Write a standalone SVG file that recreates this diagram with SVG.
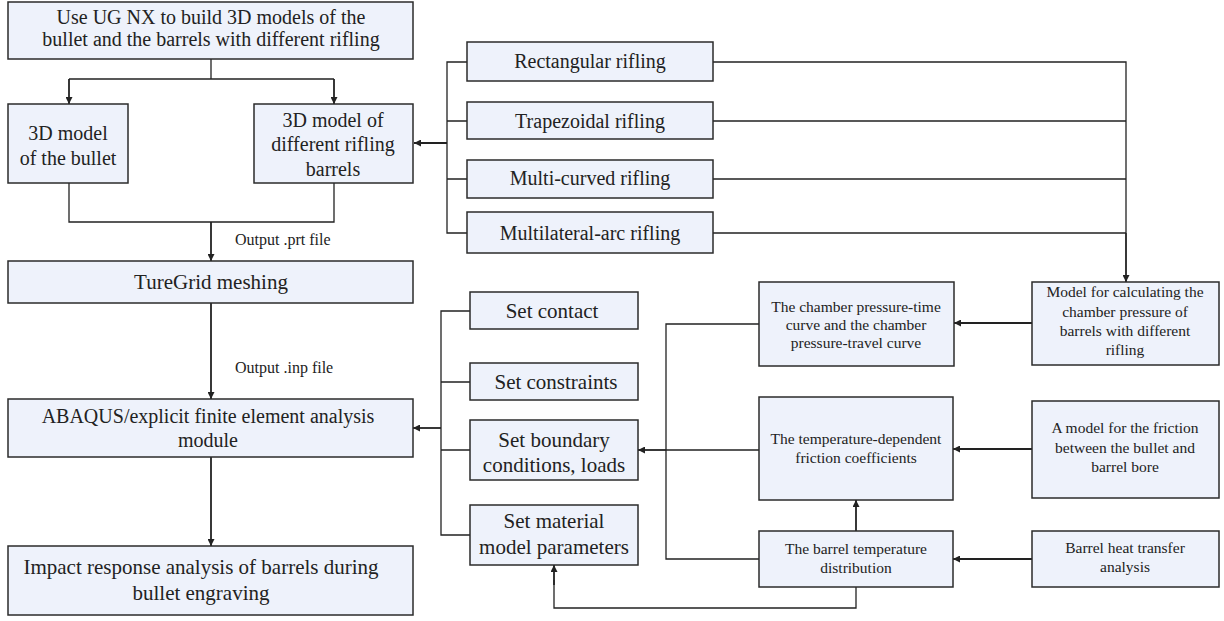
<svg xmlns="http://www.w3.org/2000/svg" width="1224" height="621" viewBox="0 0 1224 621">
<style>
.box{fill:#eef2fb;stroke:#2b2b2b;stroke-width:1.5}
.t{font-family:"Liberation Serif",serif;fill:#222;text-anchor:middle}
.big{font-size:20px}
.set{font-size:21px}
.sm{font-size:15.5px}
.lbl{font-family:"Liberation Serif",serif;fill:#222;font-size:16px}
.ln{fill:none;stroke:#222;stroke-width:1.3}
.ar{fill:none;stroke:#222;stroke-width:1.8;marker-end:url(#ah)}
</style>
<defs>
<marker id="ah" markerUnits="userSpaceOnUse" markerWidth="7" markerHeight="7" refX="7" refY="3.5" orient="auto">
<path d="M0,0 L7,3.5 L0,7 z" fill="#222"/>
</marker>
</defs>
<rect width="1224" height="621" fill="#fff"/>

<g id="connectors">
<path class="ln" d="M211,59 V79 M69,79 H334"/>
<path class="ar" d="M69,79 V104"/>
<path class="ar" d="M334,79 V104"/>
<path class="ln" d="M69,183 V222 H334 V183"/>
<path class="ar" d="M211,222 V261"/>
<path class="ar" d="M211,303 V399"/>
<path class="ar" d="M211,457 V546"/>
<path class="ln" d="M467,62 H447 V233 H467 M447,121 H467 M447,179 H467"/>
<path class="ar" d="M447,143 H414"/>
<path class="ln" d="M713,62 H1126 V233 M713,121 H1126 M713,179 H1126 M713,233 H1126"/>
<path class="ar" d="M1126,233 V282"/>
<path class="ar" d="M1032,323 H954"/>
<path class="ar" d="M1032,449 H953"/>
<path class="ar" d="M1032,559 H953"/>
<path class="ar" d="M856,531 V500"/>
<path class="ln" d="M759,324 H666 V559 H759 M759,450 H666"/>
<path class="ar" d="M666,450 H638"/>
<path class="ln" d="M470,311 H441 V535 H470 M441,382 H470 M441,450 H470"/>
<path class="ar" d="M441,428 H413"/>
<path class="ln" d="M856,587 V608 H554 V580"/>
<path class="ar" d="M554,585 V565"/>
</g>

<g id="n-top"><rect class="box" x="8" y="2" width="405" height="57"/>
<text class="t big" x="211" y="24">Use UG NX to build 3D models of the</text>
<text class="t big" x="211" y="46">bullet and the barrels with different rifling</text></g>

<g id="n-bullet"><rect class="box" x="8" y="104" width="120" height="79"/>
<text class="t big" x="68" y="140">3D model</text>
<text class="t big" x="68" y="165">of the bullet</text></g>

<g id="n-barrels"><rect class="box" x="254" y="104" width="159" height="79"/>
<text class="t big" x="333" y="127">3D model of</text>
<text class="t big" x="333" y="151">different rifling</text>
<text class="t big" x="333" y="176">barrels</text></g>

<g id="n-rect"><rect class="box" x="467" y="42" width="246" height="39"/>
<text class="t big" x="590" y="68">Rectangular rifling</text></g>
<g id="n-trap"><rect class="box" x="467" y="102" width="246" height="37"/>
<text class="t big" x="590" y="128">Trapezoidal rifling</text></g>
<g id="n-multi"><rect class="box" x="467" y="160" width="246" height="38"/>
<text class="t big" x="590" y="185">Multi-curved rifling</text></g>
<g id="n-multilat"><rect class="box" x="467" y="212" width="246" height="41"/>
<text class="t big" x="590" y="240">Multilateral-arc rifling</text></g>

<text class="lbl" x="235" y="245">Output .prt file</text>
<text class="lbl" x="235" y="373">Output .inp file</text>

<g id="n-turegrid"><rect class="box" x="8" y="261" width="405" height="42"/>
<text class="t set" x="211" y="289">TureGrid meshing</text></g>

<g id="n-abaqus"><rect class="box" x="8" y="399" width="405" height="58"/>
<text class="t big" x="208" y="423">ABAQUS/explicit finite element analysis</text>
<text class="t big" x="208" y="447">module</text></g>

<g id="n-impact"><rect class="box" x="8" y="546" width="405" height="69"/>
<text class="t set" x="201" y="574">Impact response analysis of barrels during</text>
<text class="t set" x="201" y="600">bullet engraving</text></g>

<g id="n-contact"><rect class="box" x="470" y="292" width="168" height="37"/>
<text class="t set" x="552" y="318">Set contact</text></g>
<g id="n-constraints"><rect class="box" x="470" y="363" width="168" height="37"/>
<text class="t set" x="556" y="389">Set constraints</text></g>
<g id="n-boundary"><rect class="box" x="470" y="420" width="168" height="60"/>
<text class="t set" x="554" y="447">Set boundary</text>
<text class="t set" x="554" y="472">conditions, loads</text></g>
<g id="n-material"><rect class="box" x="470" y="505" width="168" height="60"/>
<text class="t set" x="554" y="528">Set material</text>
<text class="t set" x="554" y="554">model parameters</text></g>

<g id="n-chamber"><rect class="box" x="759" y="282" width="195" height="84"/>
<text class="t sm" x="856" y="312">The chamber pressure-time</text>
<text class="t sm" x="856" y="330">curve and the chamber</text>
<text class="t sm" x="856" y="348">pressure-travel curve</text></g>

<g id="n-model"><rect class="box" x="1032" y="282" width="187" height="83"/>
<text class="t sm" x="1125" y="297">Model for calculating the</text>
<text class="t sm" x="1125" y="317">chamber pressure of</text>
<text class="t sm" x="1125" y="336">barrels with different</text>
<text class="t sm" x="1125" y="355">rifling</text></g>

<g id="n-tempfric"><rect class="box" x="759" y="397" width="194" height="103"/>
<text class="t sm" x="856" y="444">The temperature-dependent</text>
<text class="t sm" x="856" y="463">friction coefficients</text></g>

<g id="n-friction"><rect class="box" x="1032" y="401" width="187" height="97"/>
<text class="t sm" x="1125" y="433">A model for the friction</text>
<text class="t sm" x="1125" y="453">between the bullet and</text>
<text class="t sm" x="1125" y="472">barrel bore</text></g>

<g id="n-bartemp"><rect class="box" x="759" y="531" width="194" height="56"/>
<text class="t sm" x="856" y="554">The barrel temperature</text>
<text class="t sm" x="856" y="573">distribution</text></g>

<g id="n-heat"><rect class="box" x="1032" y="531" width="187" height="56"/>
<text class="t sm" x="1125" y="553">Barrel heat transfer</text>
<text class="t sm" x="1125" y="572">analysis</text></g>
</svg>
